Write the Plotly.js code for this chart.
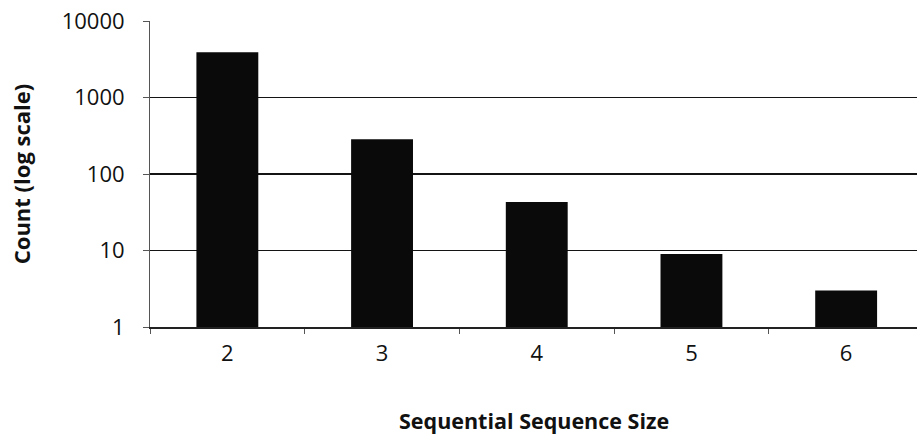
<!DOCTYPE html>
<html>
<head>
<meta charset="utf-8">
<script src="https://cdn.plot.ly/plotly-3.0.1.min.js"></script>
<style>
  html, body { margin: 0; padding: 0; background: #fff; }
  #chart { width: 917px; height: 436px; }
</style>
</head>
<body>
<div id="chart"></div>
<script>
// Sequence sizes and how often each occurs
const sizes = ['2', '3', '4', '5', '6'];
const counts = [3900, 285, 43, 9, 3];
const yTickVals = [1, 10, 100, 1000, 10000];
const yTickText = ['1', '10', '100', '1000', '10000'];

const FONT = '"Open Sans", "Noto Sans", sans-serif';

const trace = {
  type: 'bar',
  x: sizes,
  y: counts,
  marker: { color: '#0a0a0a', line: { width: 0 } },
  hoverinfo: 'x+y'
};

const layout = {
  width: 917,
  height: 436,
  margin: { l: 150, r: 0, t: 21, b: 109 },
  paper_bgcolor: '#ffffff',
  plot_bgcolor: '#ffffff',
  bargap: 0.6,
  showlegend: false,
  font: { family: FONT, color: '#111', size: 22 },
  xaxis: {
    type: 'category',
    range: [-0.5, 4.458],
    tickson: 'boundaries',
    ticks: 'outside',
    ticklen: 5,
    tickcolor: '#555',
    ticklabelstandoff: 6,
    showgrid: false,
    showline: true,
    linecolor: '#222',
    linewidth: 1.8,
    tickfont: { family: FONT, size: 22, color: '#111' },
    title: { text: '' }
  },
  yaxis: {
    type: 'log',
    range: [0, 4],
    tickvals: yTickVals,
    ticktext: yTickText,
    ticks: 'outside',
    ticklen: 6,
    tickcolor: '#555',
    ticklabelstandoff: 14,
    showline: true,
    linecolor: '#555',
    linewidth: 1,
    showgrid: true,
    gridcolor: '#141414',
    gridwidth: 1.8,
    zeroline: false,
    tickfont: { family: FONT, size: 22, color: '#111' },
    title: {
      text: 'Count (log scale)',
      font: { family: FONT, size: 22, color: '#111', weight: 'bold' },
      standoff: 24
    }
  },
  annotations: [{
    text: '<b>Sequential Sequence Size</b>',
    xref: 'paper', yref: 'paper',
    x: 0.5, y: -0.305,
    xanchor: 'center', yanchor: 'middle',
    showarrow: false,
    font: { family: FONT, size: 21.5, color: '#111' }
  }]
};

Plotly.newPlot('chart', [trace], layout, { staticPlot: true, displayModeBar: false });
</script>
</body>
</html>
